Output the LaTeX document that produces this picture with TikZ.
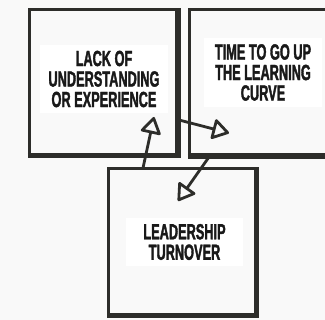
\documentclass[tikz,border=0pt]{standalone}
\usepackage{fontspec}
\usetikzlibrary{arrows.meta}
\newfontfamily\labelfont[FakeStretch=0.58, FakeBold=1.6]{Liberation Sans Bold}
\definecolor{ink}{HTML}{2D2D2A}
\definecolor{paper}{HTML}{F9F9F9}
\tikzset{
	box/.style={draw=ink, line width=3pt, fill=paper, inner sep=0pt},
	heavy/.style={draw=ink, line width=5pt, line join=miter},
	tag/.style={fill=white, inner sep=0pt, align=center, text=black!90,
		font=\labelfont\fontsize{22}{20.5}\selectfont},
	flow/.style={ink, line width=2.8pt, -{Triangle[open, round, length=18pt, width=22pt]}}
}
\begin{document}
\begin{tikzpicture}[x=1pt, y=-1pt]
	\fill[paper] (0, 0) rectangle (325, 320);
	\useasboundingbox (0, 0) rectangle (325, 320);

	\node[box, minimum width=147.5pt, minimum height=145pt] (lack) at (103.25, 82) {};
	\draw[heavy] (lack.south west) -- (lack.south east) -- (lack.north east);
	\node[box, minimum width=150.5pt, minimum height=145.5pt] (curve) at (264.75, 82.25) {};
	\draw[heavy] (curve.south west) -- (curve.south east) -- (curve.north east);
	\node[box, minimum width=146.5pt, minimum height=146pt] (turn) at (182.25, 241.5) {};
	\draw[heavy] (turn.south west) -- (turn.south east) -- (turn.north east);

	\node[tag, minimum width=128pt, minimum height=68pt] (lacktext) at (104, 79) {LACK OF\\UNDERSTANDING\\OR EXPERIENCE};
	\node[tag, minimum width=118pt, minimum height=69pt] (curvetext) at (263, 72.5) {TIME TO GO UP\\THE LEARNING\\CURVE};
	\node[tag, minimum width=117pt, minimum height=48pt] (turntext) at (184.5, 242) {LEADERSHIP\\TURNOVER};

	\coordinate (turnout) at (143, 168);
	\coordinate (lackin) at (154, 117);
	\coordinate (lackout) at (179, 120);
	\coordinate (curvein) at (229, 133);
	\coordinate (curveout) at (209, 157);
	\coordinate (turnin) at (178, 201);

	\draw[flow] (turnout) -- (lackin);
	\draw[flow] (lackout) -- (curvein);
	\draw[flow] (curveout) -- (turnin);
\end{tikzpicture}
\end{document}
